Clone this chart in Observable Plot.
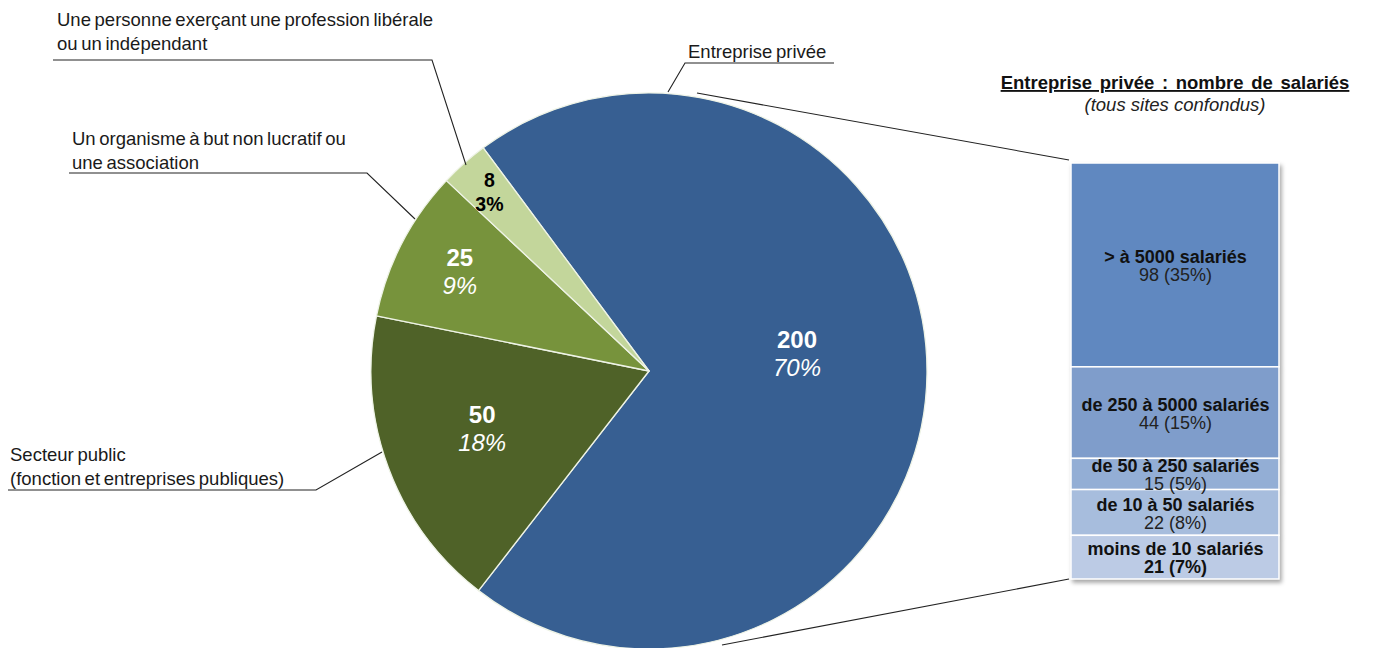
<!DOCTYPE html>
<html><head><meta charset="utf-8">
<script src="https://cdn.jsdelivr.net/npm/d3@7"></script>
<script src="https://cdn.jsdelivr.net/npm/@observablehq/plot@0.6"></script>
<style>body{margin:0;background:#fff;} svg{display:block;}</style>
</head><body><div id="chart"></div>
<script>
// ---- data ----
const sectors = ["Entreprise privée", "Secteur public", "Organisme à but non lucratif", "Profession libérale ou indépendant"];
const sectorValues = [200, 50, 25, 8];
const sectorPct = ["70%", "18%", "9%", "3%"];
const sectorCallouts = [
  ["Entreprise privée"],
  ["Secteur public", "(fonction et entreprises publiques)"],
  ["Un organisme à but non lucratif ou", "une association"],
  ["Une personne exerçant une profession libérale", "ou un indépendant"]
];
const sizeCategories = ["> à 5000 salariés", "de 250 à 5000 salariés", "de 50 à 250 salariés", "de 10 à 50 salariés", "moins de 10 salariés"];
const sizeValues = [98, 44, 15, 22, 21];
const sizePct = ["35%", "15%", "5%", "8%", "7%"];
const barTitle = "Entreprise privée : nombre de salariés";
const barSubtitle = "(tous sites confondus)";

// ---- styles / layout ----
const W = 1381, H = 648;
const cx = 649, cy = 371, R = 278;
const startDeg = -36.6;
const pieColors = ["#375f92", "#4f6228", "#77933c", "#c3d69b"];
const pieTextColors = ["#fff", "#fff", "#fff", "#000"];
const pieLabelRadius = [148, 178, 213, 240];
const pieLabelShift = [-20, -5, -2, 0];
const pieNumSize = [24, 24, 24, 19.5];
const barColors = ["#6088c0", "#7f9dcb", "#93aed5", "#a7bddd", "#bccbe5"];
const font = "Liberation Sans, Arial, sans-serif";

const sizeData = sizeCategories.map((c, i) => ({
  cat: c, value: sizeValues[i], label: `${sizeValues[i]} (${sizePct[i]})`, color: barColors[i], last: i === sizeCategories.length - 1
}));

function pieMark(index, scales) {
  const g = d3.create("svg:g").attr("font-family", font).attr("text-anchor", "start");
  const a0 = startDeg * Math.PI / 180;
  const arcs = d3.pie().sort(null).startAngle(a0).endAngle(a0 + 2 * Math.PI)(sectorValues);
  const arc = d3.arc().innerRadius(0).outerRadius(R);
  const gp = g.append("g").attr("transform", `translate(${cx},${cy})`);
  gp.selectAll("path").data(arcs).join("path")
    .attr("d", arc).attr("fill", (d, i) => pieColors[i])
    .attr("stroke", "#eef3e6").attr("stroke-width", 1.3).attr("stroke-linejoin", "round");
  arcs.forEach((d, i) => {
    const la = d3.arc().innerRadius(pieLabelRadius[i]).outerRadius(pieLabelRadius[i]);
    const [x, y] = la.centroid(d);
    const small = i === 3;
    const t = gp.append("text").attr("text-anchor", "middle").attr("fill", pieTextColors[i]);
    t.append("tspan").attr("x", x).attr("y", y + pieLabelShift[i] - 5)
      .attr("font-weight", "bold").attr("font-size", pieNumSize[i]).text(sectorValues[i]);
    t.append("tspan").attr("x", x).attr("y", y + pieLabelShift[i] + (small ? 19 : 23))
      .attr("font-style", small ? "normal" : "italic").attr("font-weight", small ? "bold" : "normal")
      .attr("font-size", pieNumSize[i]).text(sectorPct[i]);
  });

  // callouts
  const callouts = [
    {lines: sectorCallouts[3], x: 57, y: 26, path: "M53,60H432L466,165"},
    {lines: sectorCallouts[2], x: 72, y: 145, path: "M69,173H367L415,219"},
    {lines: sectorCallouts[1], x: 10, y: 461, path: "M8,490H316L382,452"},
    {lines: sectorCallouts[0], x: 688, y: 58, path: "M834,63H685L668,92"}
  ];
  callouts.forEach(c => {
    g.append("path").attr("d", c.path).attr("fill", "none").attr("stroke", "#222").attr("stroke-width", 1.1);
    const t = g.append("text").attr("font-size", 18.5).attr("fill", "#1a1a1a").attr("word-spacing", -1.5);
    c.lines.forEach((l, k) => t.append("tspan").attr("x", c.x).attr("y", c.y + k * 24).text(l));
  });

  // connectors to the bar (bar corners from the scales)
  const bx = scales.x(0), byTop = scales.y(d3.sum(sizeValues)), byBot = scales.y(0);
  g.append("path").attr("d", `M697,93L${bx - 2},${byTop - 3}`).attr("stroke", "#222").attr("fill", "none").attr("stroke-width", 1.1);
  g.append("path").attr("d", `M722,645L${bx - 2},${byBot}`).attr("stroke", "#222").attr("fill", "none").attr("stroke-width", 1.1);

  // bar title
  const xm = (scales.x(0) + scales.x(1)) / 2;
  g.append("text").attr("x", xm).attr("y", 89).attr("text-anchor", "middle")
    .attr("font-weight", "bold").attr("font-size", 18.5).attr("text-decoration", "underline")
    .attr("fill", "#111").attr("word-spacing", 2.5).text(barTitle);
  g.append("text").attr("x", xm).attr("y", 111).attr("text-anchor", "middle")
    .attr("font-style", "italic").attr("font-size", 18.5).attr("fill", "#222").text(barSubtitle);
  return g.node();
}

const chart = Plot.plot({
  width: W, height: H, margin: 0,
  x: {domain: [0, 1], range: [1071, 1279], axis: null},
  y: {domain: [0, d3.sum(sizeValues)], range: [579, 163], axis: null},
  marks: [
    pieMark,
    Plot.rectY(sizeData, Plot.stackY({x1: 0, x2: 1, y: "value", fill: "color", stroke: "#fff", strokeWidth: 1.5, reverse: true})),
    Plot.text(sizeData, Plot.stackY({x: 0.5, y: "value", text: "cat", reverse: true, dy: -8, fontWeight: "bold", fontSize: 18, fill: "#111", fontFamily: font})),
    Plot.text(sizeData, Plot.stackY({x: 0.5, y: "value", text: d => d.last ? "" : d.label, reverse: true, dy: 10, fontSize: 18, fill: "#222", fontFamily: font})),
    Plot.text(sizeData, Plot.stackY({x: 0.5, y: "value", text: d => d.last ? d.label : "", reverse: true, dy: 10, fontSize: 18, fontWeight: "bold", fill: "#111", fontFamily: font}))
  ]
});
d3.select(chart).selectAll('g[aria-label="rect"]').style("filter", "drop-shadow(2px 3px 2px rgba(0,0,0,0.35))");
document.getElementById("chart").appendChild(chart);
</script>
</body></html>
